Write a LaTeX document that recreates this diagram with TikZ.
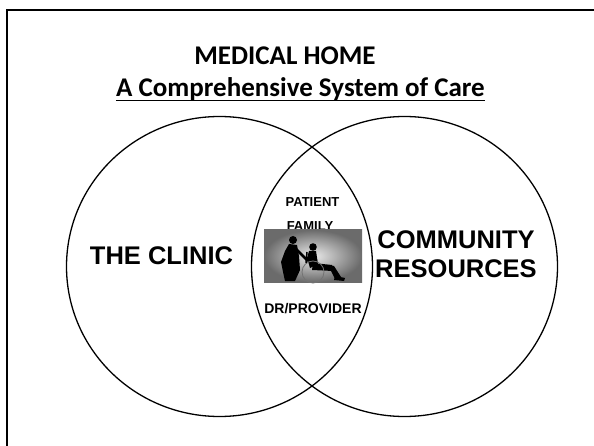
\documentclass[tikz,border=0pt]{standalone}
\usepackage{fontspec}
\setmainfont{Liberation Sans}
\newfontfamily\titlefont{Carlito}
\usetikzlibrary{shapes.geometric}

\tikzset{
  ring/.style={ellipse,draw,line width=1.3pt,inner sep=0pt,minimum width=306pt,minimum height=300pt},
  bigtxt/.style={anchor=base,inner sep=0pt,font=\bfseries\fontsize{25.5}{30}\selectfont},
  smalltxt/.style={anchor=base,inner sep=0pt,font=\bfseries\fontsize{13}{15}\selectfont},
  headtxt/.style={anchor=base,inner sep=0pt,font=\titlefont\bfseries\fontsize{27}{32}\selectfont}
}

\begin{document}
\begin{tikzpicture}[x=1pt,y=-1pt]
            \useasboundingbox (0,0) rectangle (594,446);
            \fill[white] (0,0) rectangle (594,446);
            % slide frame, only its left and top sides show
            \draw[line width=2pt] (7,446) -- (7,10) -- (594,10);

            \node (head) at (285,65) [headtxt] {MEDICAL HOME};
            \node (sub) at (300.5,97) [headtxt] {A Comprehensive System of Care};
            \draw[line width=1.6pt] ([yshift=-3.5pt]sub.base west) -- ([yshift=-3.5pt]sub.base east);

            \node (clinic) at (219.5,266.5) [ring] {};
            \node (community) at (404.5,266.5) [ring] {};

            \node (clinictxt) at (161.5,265) [bigtxt] {THE CLINIC};
            \node (comtxt) at (456,249) [bigtxt] {COMMUNITY};
            \node (restxt) at (456,277) [bigtxt] {RESOURCES};

            \node (patient) at (312.5,207) [smalltxt] {PATIENT};
            \node (family) at (310,231) [smalltxt] {FAMILY};
            \node (provider) at (313,313) [smalltxt,font=\bfseries\fontsize{14}{16}\selectfont] {DR/PROVIDER};

            % photo of the two figures
            \node (photo) at (313,256) [minimum width=98pt,minimum height=52pt,inner sep=0pt,
                  inner color=black!8,outer color=black!58] {};
            \fill (293,240) circle (4);
            \fill (289,244) -- (297,245) -- (299,256) -- (300,270) -- (295,281) -- (285,281)
                  -- (283,272) -- (281,262) -- (285,251) -- cycle;
            \draw[line width=2.5pt] (296,249) -- (308,261);
            \fill (313,247) circle (3.8);
            \fill (309,251) -- (316,251) -- (318,264) -- (310,268) -- (307,258) -- cycle;
            \fill (313,263) -- (332,265) -- (333,271) -- (312,270) -- cycle;
            \fill (328,265) -- (334,266) -- (341,277) -- (335,279) -- cycle;
            \fill (335,276) -- (345,278) -- (344,281) -- (334,280) -- cycle;
            \draw[black!55,line width=0.8pt] (313,272) circle (11);
            \draw[line width=1.5pt] (307,252) -- (306,263);
\end{tikzpicture}
\end{document}
